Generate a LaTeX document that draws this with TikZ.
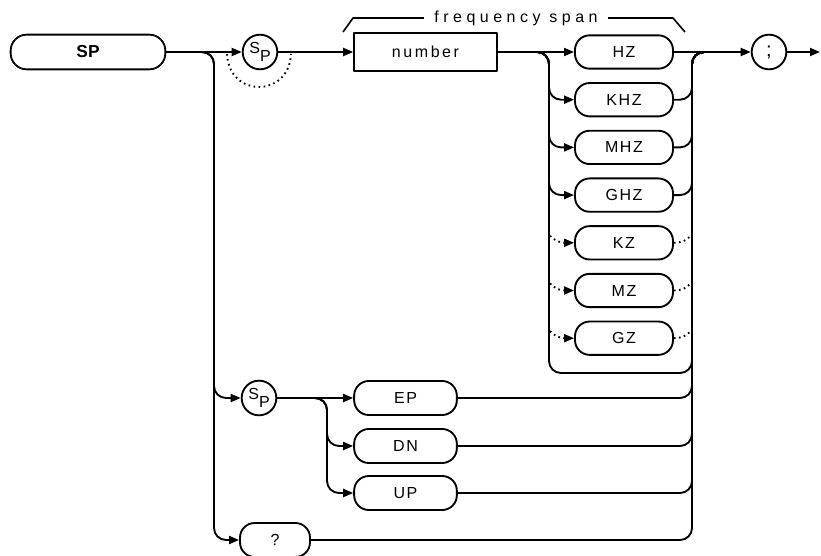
\documentclass[tikz,border=0pt]{standalone}
\usepackage{fontspec}
\setmainfont{Liberation Sans}
\newfontfamily\boxfont[LetterSpace=10]{Liberation Sans}
\newfontfamily\numfont[LetterSpace=16]{Liberation Sans}
\newfontfamily\spanfont[LetterSpace=28]{Liberation Sans}
\usetikzlibrary{arrows.meta,calc,positioning}
\newcommand{\spsym}{\raisebox{3pt}{S}\raisebox{-3.5pt}{P}}

\begin{document}
\begin{tikzpicture}[x=0.75pt, y=-0.75pt,
    line width=1.4pt, line join=round,
    >={Triangle[length=7.5pt,width=6pt]},
    key/.style={draw, rounded corners=12pt, minimum width=116pt, minimum height=26pt, font=\bfseries\fontsize{13}{14}\selectfont},
    sp/.style={draw, circle, minimum size=26pt, inner sep=0pt, font=\fontsize{12}{13}\selectfont},
    numbox/.style={draw, minimum width=107pt, minimum height=28.5pt, font=\numfont\fontsize{12}{13}\selectfont},
    unit/.style={draw, rounded corners=11pt, minimum width=73.5pt, minimum height=25pt, font=\boxfont\fontsize{12}{13}\selectfont},
    dir/.style={unit, minimum width=77pt, minimum height=25.5pt},
    query/.style={unit, minimum width=52.5pt, minimum height=25.5pt},
    flow/.style={->, rounded corners=9pt},
    line/.style={rounded corners=9pt},
    optline/.style={dash pattern=on 1.2pt off 2.6pt, line width=1.4pt},
    spanlbl/.style={fill=white, inner xsep=8pt, font=\spanfont\fontsize{12}{13}\selectfont}
]
\useasboundingbox (0,0) rectangle (821,556);

% Nodes
\node[key] (SP) at (88,52) {SP};
\node[sp] (spA) at (260,52) {\spsym};
\node[numbox] (num) at (425.5,52) {number};
\foreach \u [count=\k from 0] in {HZ,KHZ,MHZ,GHZ,KZ,MZ,GZ} {
  \node[unit] (\u) at (624,52+47.7*\k) {\u};
}
\node[sp, font=\fontsize{15}{15}\selectfont] (semi) at (769,52) {;};
\node[sp] (spB) at (259,398) {\spsym};
\foreach \u/\y in {EP/398,DN/446,UP/493} {
  \node[dir] (\u) at (405.5,\y) {\u};
}
\node[query] (qm) at (275,540) {?};

% Junctions
\coordinate (splitL) at (200,52);
\coordinate (topA) at (214,52);
\coordinate (skipL) at (227,54);
\coordinate (skipR) at (291,54);
\coordinate (splitD) at (313,398);
\coordinate (topD) at (327,398);
\coordinate (splitU) at (535,52);
\coordinate (topL) at (549,52);
\coordinate (loopB) at (549,373);
\coordinate (busT) at (692,52);
\coordinate (joinR) at (706,52);
\coordinate (endpt) at (820,52);

% Main line
\draw[flow] (SP.east) -- (spA.west);
\draw[flow] (spA.east) -- (num.west);
\draw[flow] (num.east) -- (HZ.west);
\draw[flow] (HZ.east) -- (semi.west);
\draw[flow] (semi.east) -- (endpt);
\draw[optline] (skipL) .. controls (229,98) and (289,98) .. (skipR);

% Lower branches
\draw[flow] (splitL) -- (topA) |- (spB.west);
\draw[flow] (splitL) -- (topA) |- (qm.west);
\draw[flow] (spB.east) -- (EP.west);
\foreach \u in {DN,UP} {
  \draw[flow] (splitD) -- (topD) |- (\u.west);
}

% Units
\foreach \u in {KHZ,MHZ,GHZ} {
  \draw[flow] (splitU) -- (topL) |- (\u.west);
  \draw[line] (\u.east) -| (busT) -- (joinR);
}
\foreach \u in {KZ,MZ,GZ} {
  \draw[optline] ($(\u.west)+(-24,-7)$) .. controls ($(\u.west)+(-17,-1)$) .. ($(\u.west)+(-9,0)$);
  \draw[->] ($(\u.west)+(-9,0)$) -- (\u.west);
  \draw[optline] (\u.east) .. controls ($(\u.east)+(10,-1)$) .. ($(\u.east)+(18,-8)$);
}
\draw[line] (splitU) -- (topL) -- (loopB) -| (busT) -- (joinR);

% Exits to the bus
\foreach \u in {EP,DN,UP,qm} {
  \draw[line] (\u.east) -| (busT) -- (joinR);
}

% Label over the span
\draw[line width=1.2pt] (343,32) -- (353,18) -- (673,18) -- (685,32);
\node[spanlbl] (span) at (516,18) {frequency span};

\end{tikzpicture}
\end{document}
